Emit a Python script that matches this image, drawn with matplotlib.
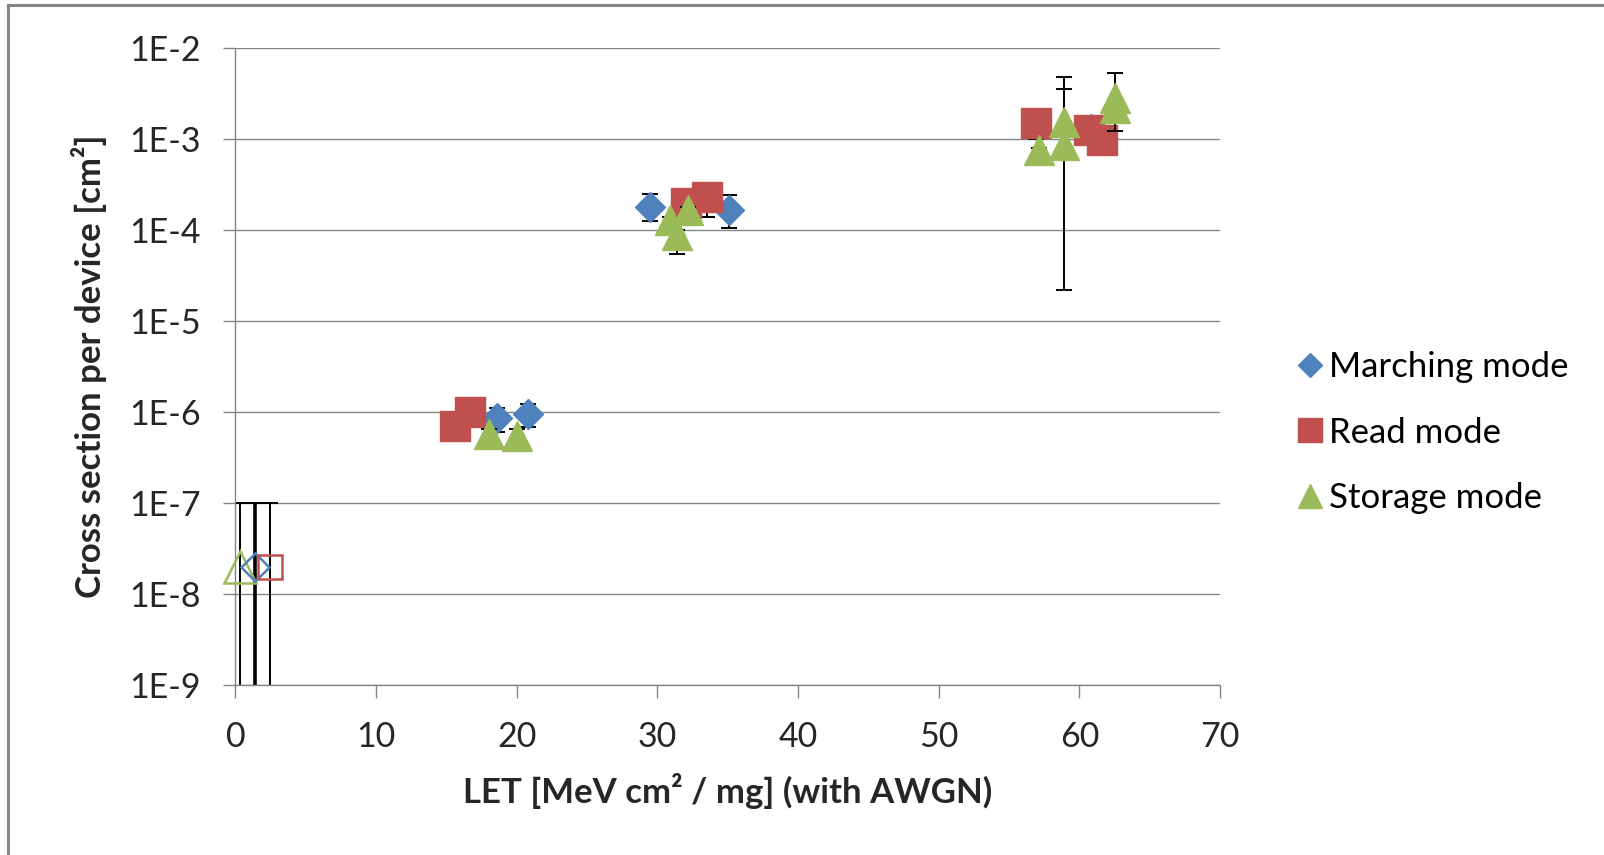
import matplotlib.pyplot as plt
from matplotlib.lines import Line2D
import numpy as np

plt.rcParams['font.family'] = ['Lato', 'DejaVu Sans']

# LET values, cross sections and error bar bounds (low, high) per series
march_x = [18.6, 20.8, 29.5, 35.1, 60.8]
march_y = [8.5e-7, 9.6e-7, 1.8e-4, 1.66e-4, 1.3e-3]
march_lo = [6.0e-7, 6.8e-7, 1.25e-4, 1.04e-4, 1.2e-3]
march_hi = [1.1e-6, 1.23e-6, 2.46e-4, 2.42e-4, 1.4e-3]

read_x = [15.6, 16.7, 32.0, 33.5, 56.9, 60.7, 61.6]
read_y = [7.0e-7, 1.0e-6, 1.96e-4, 2.3e-4, 1.49e-3, 1.26e-3, 9.7e-4]
read_lo = [6.5e-7, 9.0e-7, 1.8e-4, 1.4e-4, 1.0e-3, 1.1e-3, 9.0e-4]
read_hi = [7.5e-7, 1.1e-6, 2.1e-4, 3.3e-4, 1.6e-3, 1.4e-3, 1.05e-3]

stor_x = [18.0, 20.0, 30.9, 31.4, 32.2, 57.1, 58.9, 58.9, 62.5, 62.5]
stor_y = [5.8e-7, 5.5e-7, 1.29e-4, 8.7e-5, 1.66e-4, 7.6e-4, 1.55e-3, 8.6e-4, 2.8e-3, 2.2e-3]
stor_lo = [4.2e-7, 4.2e-7, 1.1e-4, 5.5e-5, 1.5e-4, 7.0e-4, 6.0e-4, 2.2e-5, 2.5e-3, 1.23e-3]
stor_hi = [6.5e-7, 6.5e-7, 1.4e-4, 1.0e-4, 1.8e-4, 8.0e-4, 3.5e-3, 4.8e-3, 5.3e-3, 2.5e-3]

# upper limits (no events) near LET 0
ul_x = [0.35, 1.4, 2.45]
ul_y = [2e-8, 2e-8, 2e-8]
ul_hi = [1e-7, 1e-7, 1e-7]
ul_lo = [1e-11, 1e-11, 1e-11]

labels = ['Marching mode', 'Read mode', 'Storage mode']
colors = ['#4F81BD', '#C0504D', '#9BBB59']
markers = ['D', 's', '^']
msizes = [15, 21, 22]

yticks = [1e-9, 1e-8, 1e-7, 1e-6, 1e-5, 1e-4, 1e-3, 1e-2]
ytick_labels = ['1E-9', '1E-8', '1E-7', '1E-6', '1E-5', '1E-4', '1E-3', '1E-2']

fig = plt.figure(figsize=(16.04, 8.55), dpi=100)
ax = fig.add_axes([0.1468, 0.1988, 0.6138, 0.7451])

series = [(march_x, march_y, march_lo, march_hi),
          (read_x, read_y, read_lo, read_hi),
          (stor_x, stor_y, stor_lo, stor_hi)]

ebw = 1.4
# open markers for upper limits, drawn first
ul_order = [2, 0, 1]
ul_scale = [0.95, 0.85, 1.05]
for k, i in enumerate(ul_order):
    y = ul_y[k]
    err = [[y - ul_lo[k]], [ul_hi[k] - y]]
    ax.errorbar([ul_x[k]], [y], yerr=err, fmt='none', ecolor='black',
                elinewidth=ebw if i != 0 else 2.6, capsize=6, capthick=ebw, zorder=2)
for k, i in enumerate(ul_order):
    ax.plot([ul_x[k]], [ul_y[k]], linestyle='none', marker=markers[i],
            markersize=msizes[i] * ul_scale[i], mfc='none', mec=colors[i], mew=1.8,
            zorder=3, clip_on=False)

for i, (xs, ys, lo, hi) in enumerate(series):
    ys = np.array(ys)
    err = [ys - np.array(lo), np.array(hi) - ys]
    ax.errorbar(xs, ys, yerr=err, fmt='none', ecolor='black', elinewidth=ebw,
                capsize=6, capthick=ebw, zorder=4 + i * 2)
    ax.plot(xs, ys, linestyle='none', marker=markers[i], markersize=msizes[i],
            color=colors[i], mec=colors[i], zorder=5 + i * 2)

ax.set_yscale('log')
ax.set_ylim(1e-9, 1e-2)
ax.set_xlim(0, 70)
ax.set_yticks(yticks)
ax.set_yticklabels(ytick_labels)
ax.minorticks_off()
ax.set_xticks(range(0, 71, 10))

gray = '#868686'
ax.grid(axis='y', color=gray, linewidth=1.0)
ax.set_axisbelow(True)
for s in ['top', 'right']:
    ax.spines[s].set_visible(False)
for s in ['left', 'bottom']:
    ax.spines[s].set_color(gray)
    ax.spines[s].set_linewidth(1.0)
ax.tick_params(axis='both', direction='out', length=9, width=1.0, color=gray,
               labelsize=24.5, labelcolor='#262626')
ax.tick_params(axis='y', pad=16)
ax.tick_params(axis='x', pad=17)

ax.set_xlabel('LET [MeV cm² / mg] (with AWGN)', fontsize=25, fontweight='bold',
              color='#262626', labelpad=14)
ax.set_ylabel('Cross section per device [cm²]', fontsize=25, fontweight='bold',
              color='#262626', labelpad=16)

handles = [Line2D([], [], linestyle='none', marker=markers[i],
                  markersize=msizes[i] * 0.8, color=colors[i]) for i in range(3)]
fig.legend(handles, labels, loc='center left', bbox_to_anchor=(0.798, 0.494),
           frameon=False, fontsize=25, handlelength=0.7, handletextpad=0.2,
           labelspacing=0.96, borderpad=0)

# chart border (only left and top visible in the crop)
fig.add_artist(Line2D([8 / 1604, 8 / 1604], [0, 1 - 5 / 855], color=gray,
                      linewidth=2.2, transform=fig.transFigure))
fig.add_artist(Line2D([8 / 1604, 1], [1 - 5 / 855, 1 - 5 / 855], color=gray,
                      linewidth=2.2, transform=fig.transFigure))

fig.savefig('out.png', dpi=100)
